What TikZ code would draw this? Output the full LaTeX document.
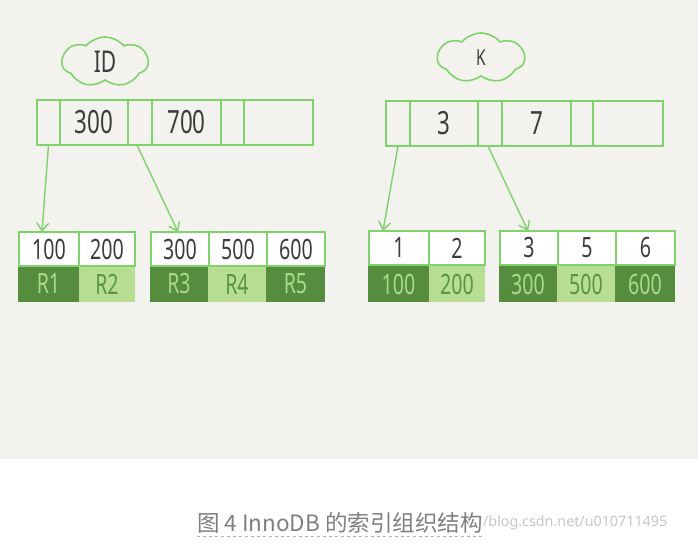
\documentclass[tikz,border=0pt]{standalone}
\usepackage{fontspec}
\setmainfont{Noto Sans}
\newfontfamily\hand[FakeStretch=0.7]{Noto Sans}
\newfontfamily\cjk{Noto Sans CJK SC}
\usetikzlibrary{shapes.symbols,arrows.meta,calc}
\definecolor{bgc}{HTML}{F3F2EE}
\definecolor{lg}{HTML}{7FD36B}
\definecolor{dkcell}{HTML}{558C3E}
\definecolor{ltcell}{HTML}{B8DE93}
\definecolor{dktxt}{HTML}{A9D98A}
\definecolor{lttxt}{HTML}{5A9540}
\definecolor{ink}{HTML}{3C3C3C}
\tikzset{
  cell/.style={draw=lg, line width=1.6pt, inner sep=0pt, outer sep=0pt, anchor=north west, text=ink},
  topcell/.style={cell, minimum height=45pt, font=\hand\fontsize{32}{32}\selectfont},
  leafcell/.style={cell, fill=white, minimum height=34pt, font=\hand\fontsize{28}{28}\selectfont},
  darkcell/.style={inner sep=0pt, outer sep=0pt, anchor=north west, fill=dkcell, text=dktxt, minimum height=36pt, font=\hand\fontsize{28}{28}\selectfont},
  lightcell/.style={darkcell, fill=ltcell, text=lttxt},
  cloudnode/.style={cloud, cloud puffs=7, cloud puff arc=100, aspect=1.7, draw=lg, line width=1.6pt, inner sep=0pt, text=ink},
  ptr/.style={draw=lg, line width=1.4pt, -{Straight Barb[length=8pt,width=12pt]}}
}
\begin{document}
\begin{tikzpicture}[x=1pt,y=-1pt]
\useasboundingbox (0,0) rectangle (698,543);
\fill[bgc] (0,0) rectangle (698,459);
\fill[white] (0,459) rectangle (698,543);

% clouds
\node[cloudnode, minimum width=86pt, minimum height=50pt] (idcloud) at (105,62) {\hand\fontsize{30}{30}\selectfont ID};
\node[cloudnode, minimum width=87pt, minimum height=50pt] (kcloud) at (481,58) {\hand\fontsize{22}{22}\selectfont K};

% top ID box
\node[topcell, minimum width=23pt] (ia) at (37,100) {};
\node[topcell, minimum width=68pt] (ib) at (60,100) {300};
\node[topcell, minimum width=24pt] (ic) at (128,100) {};
\node[topcell, minimum width=69pt] (id) at (152,100) {700};
\node[topcell, minimum width=23pt] (ie) at (221,100) {};
\node[topcell, minimum width=69pt] (if) at (244,100) {};

% top K box
\node[topcell, minimum width=24pt] (ka) at (386,101) {};
\node[topcell, minimum width=68pt] (kb) at (410,101) {3};
\node[topcell, minimum width=24pt] (kc) at (478,101) {};
\node[topcell, minimum width=69pt] (kd) at (502,101) {7};
\node[topcell, minimum width=22pt] (ke) at (571,101) {};
\node[topcell, minimum width=70pt] (kf) at (593,101) {};

% left leaves: bottom rows
\node[darkcell, minimum width=61pt] (r1) at (18,266) {R1};
\node[lightcell, minimum width=56pt] (r2) at (79,266) {R2};
\node[darkcell, minimum width=58pt] (r3) at (150,266) {R3};
\node[lightcell, minimum width=58pt] (r4) at (208,266) {R4};
\node[darkcell, minimum width=59pt] (r5) at (266,266) {R5};
% left leaves: key rows
\node[leafcell, minimum width=60pt] (l1) at (19,232) {100};
\node[leafcell, minimum width=56pt] (l2) at (79,232) {200};
\node[leafcell, minimum width=58pt] (l3) at (151,232) {300};
\node[leafcell, minimum width=58pt] (l4) at (209,232) {500};
\node[leafcell, minimum width=58pt] (l5) at (267,232) {600};

% right leaves: bottom rows
\node[darkcell, minimum width=61pt] (v1) at (368,266) {100};
\node[lightcell, minimum width=56pt] (v2) at (429,266) {200};
\node[darkcell, minimum width=58pt] (v3) at (499,266) {300};
\node[lightcell, minimum width=58pt] (v4) at (557,266) {500};
\node[darkcell, minimum width=60pt] (v5) at (615,266) {600};
% right leaves: key rows
\node[leafcell, minimum width=60pt] (m1) at (369,231) {1};
\node[leafcell, minimum width=56pt] (m2) at (429,231) {2};
\node[leafcell, minimum width=58pt] (m3) at (500,231) {3};
\node[leafcell, minimum width=58pt] (m4) at (558,231) {5};
\node[leafcell, minimum width=59pt] (m5) at (616,231) {6};

% pointers
\draw[ptr] (ia.south) -- ([xshift=-7pt]l1.north);
\draw[ptr] ([xshift=-3pt]ic.south) -- ([xshift=-2pt]l3.north);
\draw[ptr] (ka.south) -- ([xshift=-16pt]m1.north);
\draw[ptr] ([xshift=-2pt]kc.south) -- ([xshift=-1pt]m3.north);

% caption and watermark
\node[anchor=west, text=black!50, font=\cjk\fontsize{22.5}{22.5}\selectfont, inner sep=0pt] (cap) at (197,523) {图 4 InnoDB 的索引组织结构};
\node[anchor=west, text=black!22, font=\fontsize{14.3}{14.3}\selectfont, inner sep=0pt] (wm) at ([xshift=0pt]cap.east) {/blog.csdn.net/u010711495};
\draw[black!30, dashed, line width=0.8pt] ([yshift=-3pt]cap.south west) -- ([yshift=-3pt]cap.south east);
\end{tikzpicture}
\end{document}
